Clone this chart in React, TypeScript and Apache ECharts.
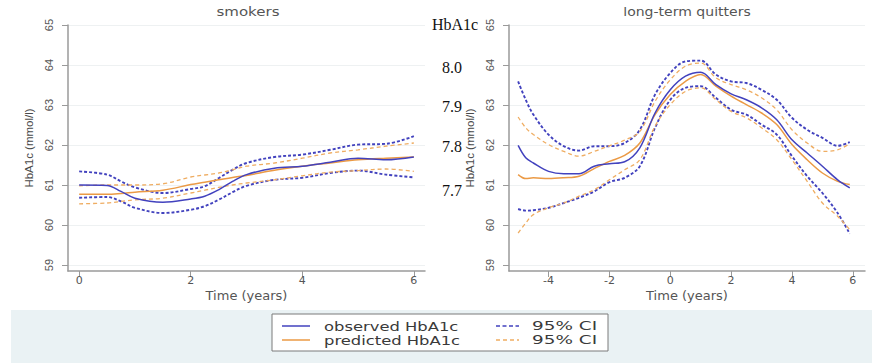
import React, { useEffect, useRef } from "react";
import * as echarts from "echarts";

// ---- data ----
const smokersTime = [0, 0.5, 0.75, 1, 1.5, 2, 2.25, 2.5, 2.75, 3, 3.5, 4, 4.5, 5, 5.5, 6];
const smokersObserved = [61.0, 60.99, 60.84, 60.67, 60.57, 60.65, 60.72, 60.88, 61.09, 61.26, 61.42, 61.47, 61.57, 61.67, 61.63, 61.7];
const smokersPredicted = [60.77, 60.77, 60.79, 60.82, 60.87, 61.01, 61.07, 61.13, 61.19, 61.24, 61.37, 61.47, 61.55, 61.63, 61.67, 61.7];
const smokersObsUpper = [61.34, 61.26, 61.09, 60.94, 60.8, 60.9, 60.97, 61.17, 61.38, 61.55, 61.7, 61.76, 61.88, 62.01, 62.03, 62.22];
const smokersObsLower = [60.68, 60.7, 60.59, 60.43, 60.3, 60.38, 60.47, 60.63, 60.82, 60.98, 61.13, 61.18, 61.3, 61.36, 61.26, 61.19];
const smokersPredUpper = [60.98, 61.0, 61.0, 61.0, 61.03, 61.2, 61.25, 61.3, 61.38, 61.47, 61.55, 61.67, 61.8, 61.88, 61.97, 62.05];
const smokersPredLower = [60.53, 60.55, 60.59, 60.63, 60.67, 60.8, 60.87, 60.94, 61.0, 61.05, 61.13, 61.23, 61.32, 61.36, 61.4, 61.34];

const quittersTime = [-5, -4.75, -4.5, -4, -3.5, -3, -2.5, -2, -1.5, -1, -0.5, 0, 0.5, 1, 1.5, 2, 2.5, 3, 3.5, 4, 4.5, 5, 5.5, 5.9];
const quittersObserved = [61.99, 61.68, 61.55, 61.34, 61.28, 61.28, 61.47, 61.53, 61.58, 61.93, 62.8, 63.38, 63.72, 63.82, 63.51, 63.28, 63.13, 62.93, 62.63, 62.13, 61.8, 61.47, 61.13, 60.93];
const quittersPredicted = [61.26, 61.16, 61.18, 61.16, 61.18, 61.22, 61.41, 61.59, 61.74, 62.05, 62.76, 63.26, 63.59, 63.76, 63.47, 63.22, 63.01, 62.8, 62.51, 62.01, 61.63, 61.3, 61.09, 61.01];
const quittersObsUpper = [63.59, 63.13, 62.76, 62.26, 61.97, 61.86, 61.97, 61.97, 62.05, 62.38, 63.26, 63.8, 64.09, 64.11, 63.76, 63.59, 63.55, 63.38, 63.13, 62.68, 62.38, 62.18, 61.98, 62.07];
const quittersObsLower = [60.4, 60.36, 60.37, 60.43, 60.55, 60.68, 60.84, 61.07, 61.18, 61.47, 62.43, 63.13, 63.43, 63.47, 63.18, 62.88, 62.76, 62.51, 62.26, 61.72, 61.22, 60.8, 60.3, 59.78];
const quittersPredUpper = [62.7, 62.43, 62.26, 62.01, 61.84, 61.72, 61.84, 61.98, 62.12, 62.34, 63.09, 63.63, 63.97, 64.05, 63.68, 63.51, 63.38, 63.18, 62.88, 62.38, 62.05, 61.84, 61.88, 62.03];
const quittersPredLower = [59.8, 60.05, 60.26, 60.43, 60.55, 60.72, 60.88, 61.13, 61.38, 61.63, 62.47, 63.01, 63.34, 63.43, 63.13, 62.84, 62.68, 62.43, 62.13, 61.63, 61.09, 60.55, 60.22, 59.88];

const yTicks = [59, 60, 61, 62, 63, 64, 65];
const smokersXTicks = [0, 2, 4, 6];
const quittersXTicks = [-4, -2, 0, 2, 4, 6];
const panelTitles = ["smokers", "long-term quitters"];
const legendLabels = ["observed HbA1c", "predicted HbA1c", "95% CI", "95% CI"];
const overlayLabels = ["HbA1c", "8.0", "7.9", "7.8", "7.7"];

const BLUE = "#4242be";
const ORANGE = "#eb9a45";
const ORANGE_DASH = "#efad62";
const FONT = "DejaVu Sans";
const YFONT = "Liberation Sans";
const AXIS_GRAY = "#9a9a9a";
const TEXT_GRAY = "#555";

function lineSeries(name: string, xs: number[], ys: number[], idx: number, color: string, dashed: boolean, blueDash: boolean) {
  return {
    type: "line",
    name,
    xAxisIndex: idx,
    yAxisIndex: idx,
    data: xs.map((t, i) => [t, ys[i]]),
    showSymbol: false,
    symbol: "none",
    smooth: 0.35,
    silent: true,
    lineStyle: {
      color,
      width: dashed ? (blueDash ? 1.9 : 1.3) : 1.5,
      type: dashed ? (blueDash ? [3, 2] : [4, 3]) : "solid",
    },
    z: dashed ? 2 : 3,
  };
}

function xAxisCfg(idx: number, min: number, max: number, ticks: number[]) {
  return {
    gridIndex: idx,
    type: "value",
    min,
    max,
    axisLine: { show: true, onZero: false, lineStyle: { color: AXIS_GRAY, width: 1.5 } },
    axisTick: { show: true, length: 6, customValues: ticks, lineStyle: { color: AXIS_GRAY } },
    axisLabel: { customValues: ticks, margin: 4, fontSize: 11, lineHeight: 11, color: TEXT_GRAY, fontFamily: FONT },
    splitLine: { show: false },
    name: "Time (years)",
    nameLocation: "middle",
    nameGap: 18.5,
    nameMoveOverlap: false,
    nameTextStyle: { fontSize: 13, lineHeight: 12, color: TEXT_GRAY, fontFamily: FONT },
  };
}

function yAxisCfg(idx: number) {
  return {
    gridIndex: idx,
    type: "value",
    min: 58.85,
    max: 65,
    axisLine: { show: true, onZero: false, lineStyle: { color: AXIS_GRAY, width: 1.5 } },
    axisTick: { show: true, length: 6, customValues: yTicks, lineStyle: { color: AXIS_GRAY } },
    axisLabel: { customValues: yTicks, rotate: 90, margin: 14, fontSize: 11, color: TEXT_GRAY, fontFamily: YFONT },
    splitLine: { show: true, lineStyle: { color: "#eef1f2", width: 1 } },
    name: "HbA1c (mmol/l)",
    nameLocation: "middle",
    nameGap: 33,
    nameMoveOverlap: false,
    nameTextStyle: { fontSize: 11.5, color: "#4a4a4a", fontFamily: YFONT },
  };
}

export default function App() {
  const ref = useRef<HTMLDivElement>(null);
  useEffect(() => {
    if (!ref.current) return;
    const chart = echarts.init(ref.current, undefined, { renderer: "svg" });

    const legendRowY = [326, 340];
    const legendGraphics: any[] = [
      { type: "rect", shape: { x: 11, y: 310, width: 861, height: 53 }, style: { fill: "#eaf2f4" }, z: 0, silent: true },
      { type: "rect", shape: { x: 272, y: 314, width: 336, height: 37 }, style: { fill: "#fff", stroke: "#7a7a7a", lineWidth: 1 }, z: 1, silent: true },
      { type: "line", shape: { x1: 282, y1: legendRowY[0], x2: 310, y2: legendRowY[0] }, style: { stroke: BLUE, lineWidth: 1.5 }, z: 2 },
      { type: "line", shape: { x1: 282, y1: legendRowY[1], x2: 310, y2: legendRowY[1] }, style: { stroke: ORANGE, lineWidth: 1.5 }, z: 2 },
      { type: "line", shape: { x1: 496, y1: legendRowY[0], x2: 519, y2: legendRowY[0] }, style: { stroke: BLUE, lineWidth: 1.5, lineDash: [4, 2.5] }, z: 2 },
      { type: "line", shape: { x1: 496, y1: legendRowY[1], x2: 519, y2: legendRowY[1] }, style: { stroke: ORANGE_DASH, lineWidth: 1.3, lineDash: [4, 3] }, z: 2 },
      { type: "text", x: 324, y: legendRowY[0], scaleX: 1.26, style: { text: legendLabels[0], font: `13px '${FONT}'`, fill: "#3a3a3a", textVerticalAlign: "middle" }, z: 2 },
      { type: "text", x: 324, y: legendRowY[1], scaleX: 1.26, style: { text: legendLabels[1], font: `13px '${FONT}'`, fill: "#3a3a3a", textVerticalAlign: "middle" }, z: 2 },
      { type: "text", x: 532, y: legendRowY[0], scaleX: 1.42, style: { text: legendLabels[2], font: `13px '${FONT}'`, fill: "#3a3a3a", textVerticalAlign: "middle" }, z: 2 },
      { type: "text", x: 532, y: legendRowY[1], scaleX: 1.42, style: { text: legendLabels[3], font: `13px '${FONT}'`, fill: "#3a3a3a", textVerticalAlign: "middle" }, z: 2 },
    ];

    const titleGraphics: any[] = [
      { type: "text", x: 248, y: 12, scaleX: 1.25, style: { text: panelTitles[0], font: `12px '${FONT}'`, fill: TEXT_GRAY, textAlign: "center", textVerticalAlign: "middle" } },
      { type: "text", x: 687, y: 12, scaleX: 1.17, style: { text: panelTitles[1], font: `12px '${FONT}'`, fill: TEXT_GRAY, textAlign: "center", textVerticalAlign: "middle" } },
    ];

    const overlayY = [24, 67, 106, 146, 190];
    const overlayGraphics: any[] = overlayLabels.map((t, i) => ({
      type: "text",
      x: i === 0 ? 432 : 442,
      y: overlayY[i],
      z: 10,
      style: { text: t, font: "16px 'Liberation Serif'", fill: "#111", textVerticalAlign: "middle" },
    }));

    chart.setOption({
      animation: false,
      backgroundColor: "#ffffff",
      grid: [
        { left: 68, top: 25, width: 357, height: 246, containLabel: false },
        { left: 509, top: 25, width: 356, height: 246, containLabel: false },
      ],
      xAxis: [xAxisCfg(0, -0.2, 6.2, smokersXTicks), xAxisCfg(1, -5.3, 6.4, quittersXTicks)],
      yAxis: [yAxisCfg(0), yAxisCfg(1)],
      series: [
        lineSeries("95% CI (observed)", smokersTime, smokersObsUpper, 0, BLUE, true, true),
        lineSeries("95% CI (observed)", smokersTime, smokersObsLower, 0, BLUE, true, true),
        lineSeries("95% CI (predicted)", smokersTime, smokersPredUpper, 0, ORANGE_DASH, true, false),
        lineSeries("95% CI (predicted)", smokersTime, smokersPredLower, 0, ORANGE_DASH, true, false),
        lineSeries("predicted HbA1c", smokersTime, smokersPredicted, 0, ORANGE, false, false),
        lineSeries("observed HbA1c", smokersTime, smokersObserved, 0, BLUE, false, false),
        lineSeries("95% CI (observed)", quittersTime, quittersObsUpper, 1, BLUE, true, true),
        lineSeries("95% CI (observed)", quittersTime, quittersObsLower, 1, BLUE, true, true),
        lineSeries("95% CI (predicted)", quittersTime, quittersPredUpper, 1, ORANGE_DASH, true, false),
        lineSeries("95% CI (predicted)", quittersTime, quittersPredLower, 1, ORANGE_DASH, true, false),
        lineSeries("predicted HbA1c", quittersTime, quittersPredicted, 1, ORANGE, false, false),
        lineSeries("observed HbA1c", quittersTime, quittersObserved, 1, BLUE, false, false),
      ],
      graphic: [...legendGraphics, ...titleGraphics, ...overlayGraphics],
    });

    return () => chart.dispose();
  }, []);

  return (
    <div
      ref={ref}
      style={{ position: "fixed", left: 0, top: 0, width: 872, height: 363, background: "#fff" }}
    />
  );
}
